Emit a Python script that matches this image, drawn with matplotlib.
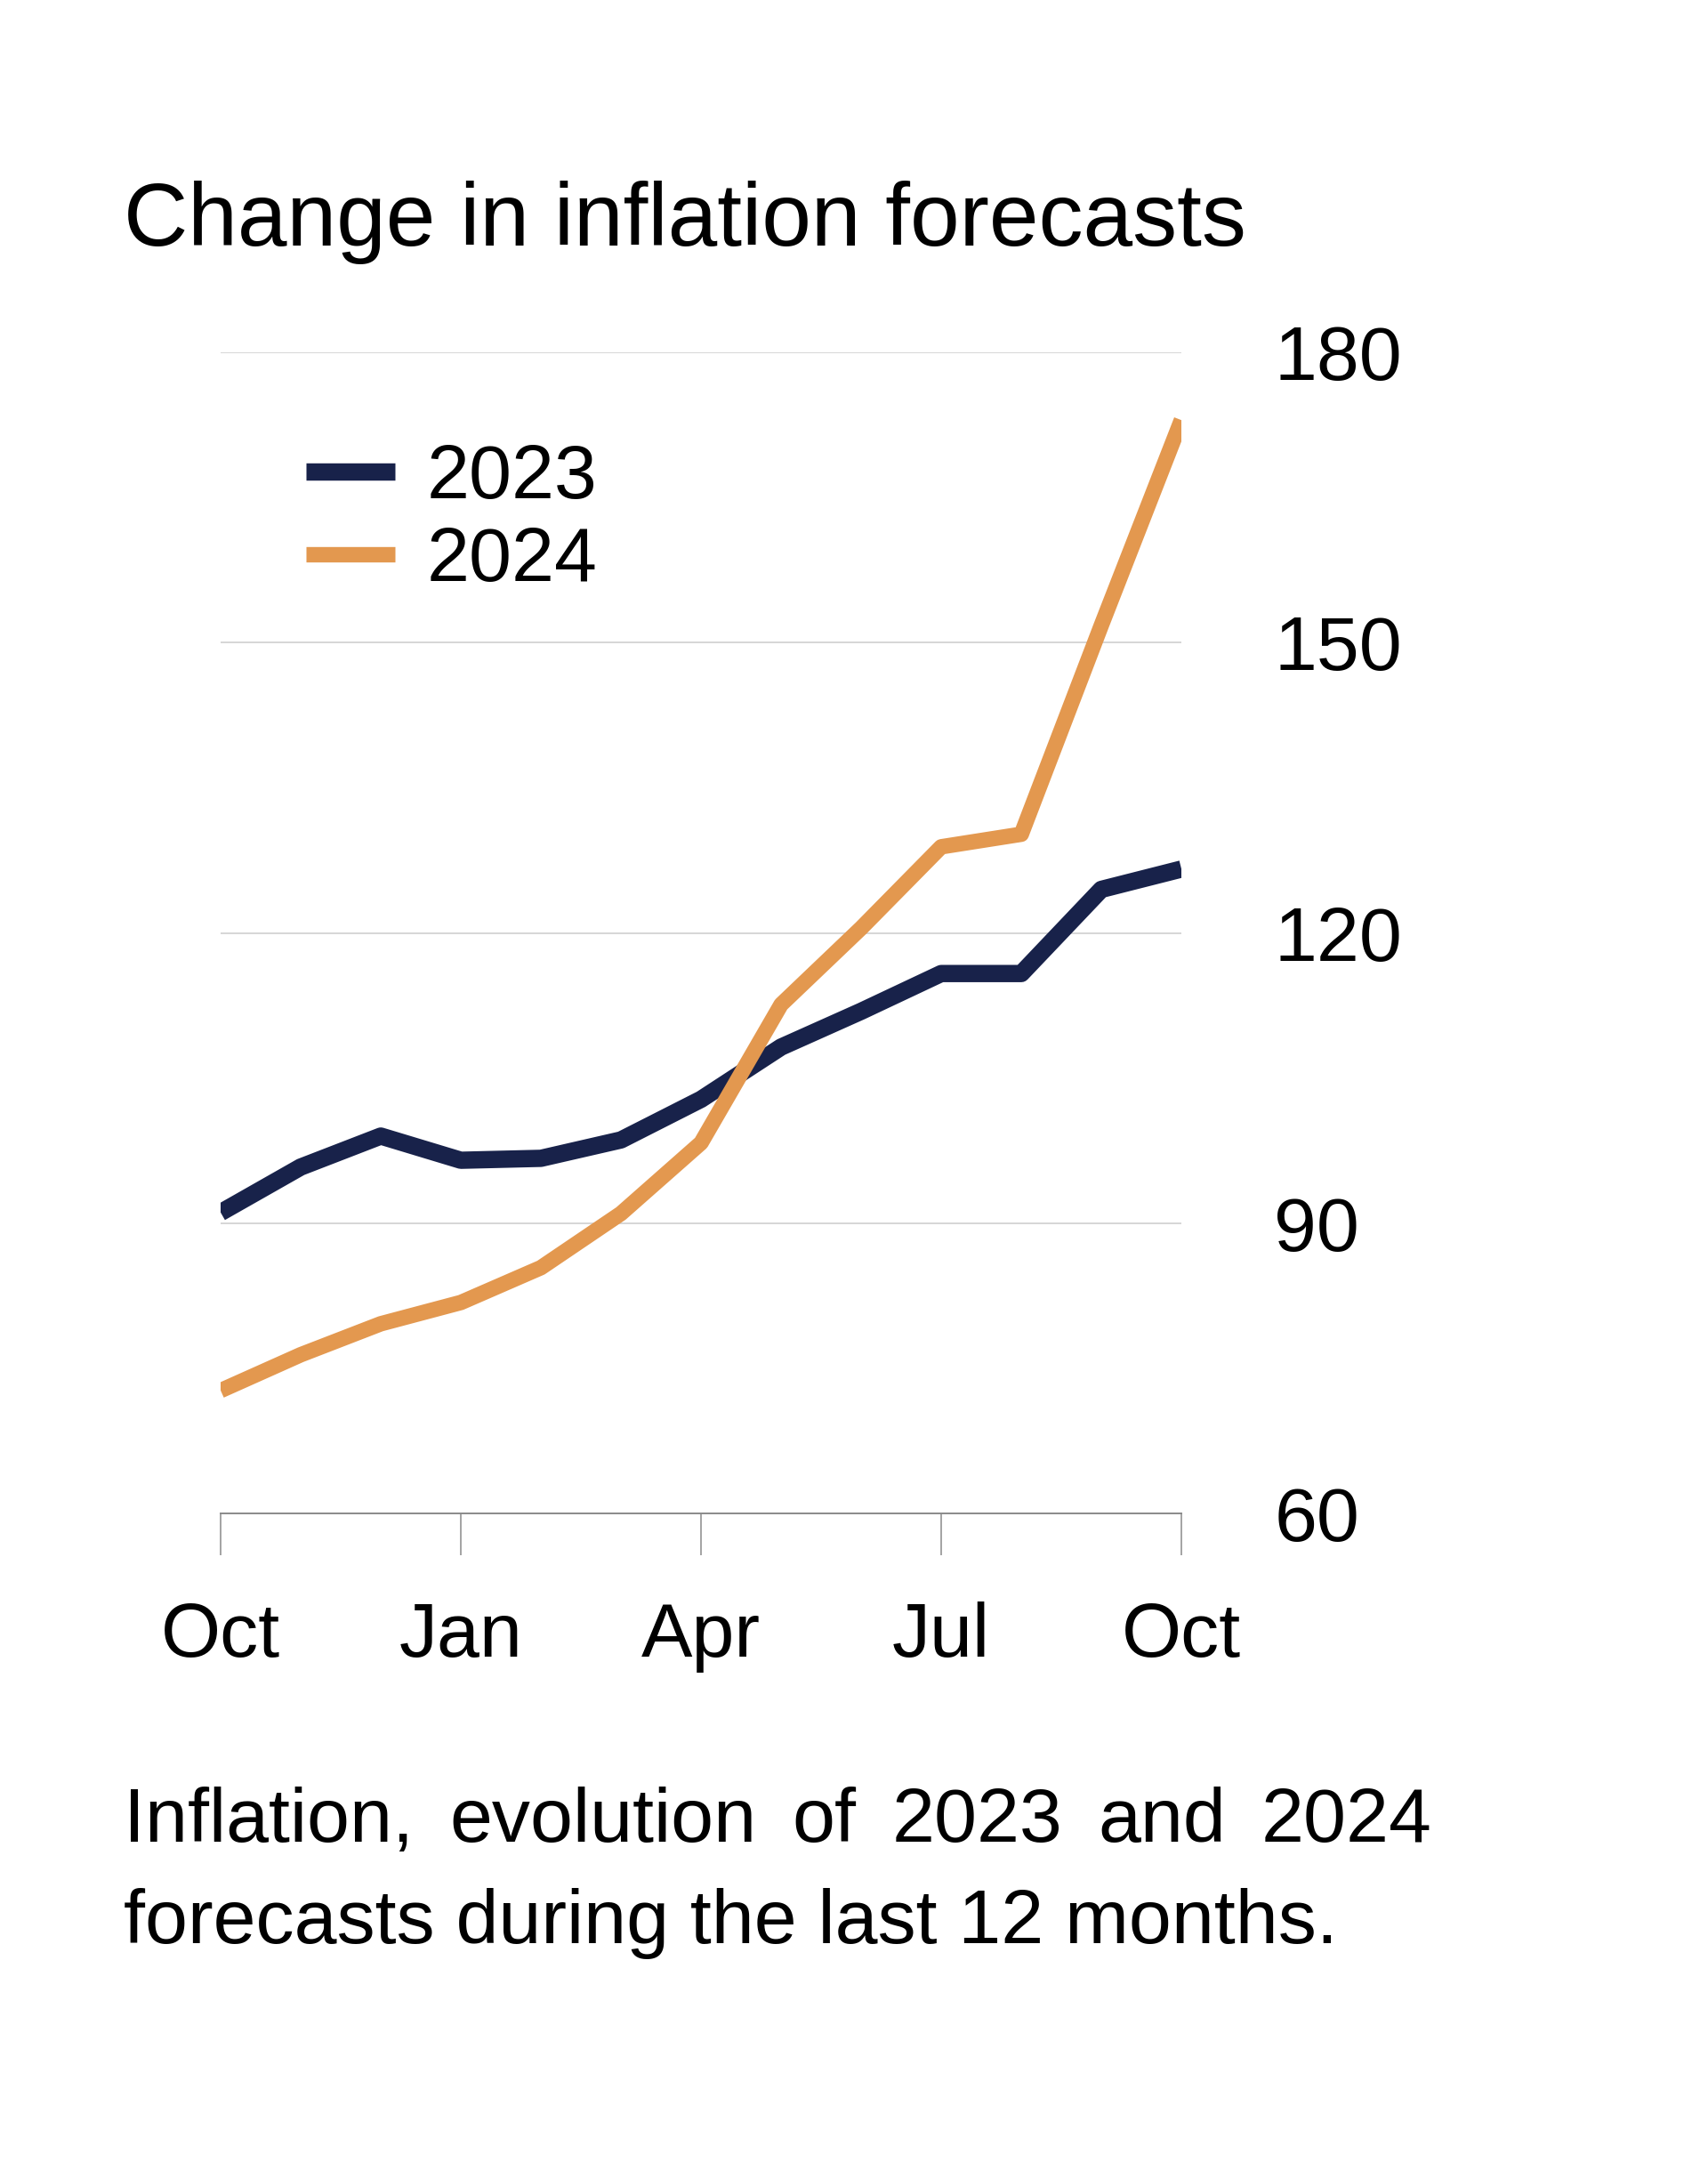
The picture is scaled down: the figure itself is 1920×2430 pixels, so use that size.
import matplotlib
matplotlib.use("Agg")
import matplotlib.pyplot as plt

# months from Oct (0) to Oct next year (12)
months = list(range(13))
tick_pos = [0, 3, 6, 9, 12]
tick_labels = ["Oct", "Jan", "Apr", "Jul", "Oct"]

infl_2023 = [91.1, 95.8, 99.0, 96.5, 96.7, 98.6, 102.8, 108.2, 111.9, 115.8, 115.8, 124.5, 126.6]
infl_2024 = [72.7, 76.4, 79.6, 81.8, 85.4, 91.0, 98.3, 112.6, 120.5, 128.9, 130.2, 151.8, 173.0]

y_ticks = [60, 90, 120, 150, 180]

navy = "#18224a"
orange = "#e3984f"

plt.rcParams['font.family'] = ['Liberation Sans', 'DejaVu Sans']

fig = plt.figure(figsize=(19.2, 24.3), dpi=100)
ax = fig.add_axes([0.1292, 0.300, 0.5625, 0.537])

l1, = ax.plot(months, infl_2023, color=navy, lw=14, solid_capstyle='butt', label='2023', zorder=3)
l2, = ax.plot(months, infl_2024, color=orange, lw=12.5, solid_capstyle='butt', label='2024', zorder=3)

ax.set_xlim(0, 12)
ax.set_ylim(60, 180)

# grid
for v in y_ticks[1:]:
    ax.axhline(v, color='#d6d6d6', lw=1.4, zorder=1)

for s in ['top', 'left', 'right']:
    ax.spines[s].set_visible(False)
ax.spines['bottom'].set_color('#8a8a8a')
ax.spines['bottom'].set_linewidth(1.4)

ax.set_xticks(tick_pos)
ax.set_xticklabels(tick_labels)
ax.tick_params(axis='x', length=34, width=1.1, color='#8a8a8a', pad=37, labelsize=62)

ax.yaxis.tick_right()
ax.set_yticks(y_ticks)
ax.set_yticklabels([str(v) for v in y_ticks])
ax.tick_params(axis='y', length=0, pad=75, labelsize=62)
for lab in ax.get_yticklabels():
    lab.set_horizontalalignment('left')

ax.legend(handles=[l1, l2], loc='upper left', bbox_to_anchor=(0.089, 0.922), frameon=False,
          fontsize=62, handlelength=1.16, handletextpad=0.41, labelspacing=0.15,
          borderpad=0, borderaxespad=0)

fig.text(0.0725, 0.8866, "Change in inflation forecasts", fontsize=72, va='baseline', ha='left')

# caption, first line justified
x0, x1 = 0.0725, 0.8385
words = ["Inflation,", "evolution", "of", "2023", "and", "2024"]
fig.canvas.draw()
r = fig.canvas.get_renderer()
texts = []
widths = []
for w in words:
    t = fig.text(x0, 0.1482, w, fontsize=62, va='baseline', ha='left')
    bb = t.get_window_extent(renderer=r)
    texts.append(t)
    widths.append(bb.width / fig.bbox.width)
gap = (x1 - x0 - sum(widths)) / (len(words) - 1)
xx = x0
for t, w in zip(texts, widths):
    t.set_x(xx)
    xx += w + gap

fig.text(x0, 0.1012, "forecasts during the last 12 months.", fontsize=62, va='baseline', ha='left')

plt.savefig("out.png", dpi=100)
